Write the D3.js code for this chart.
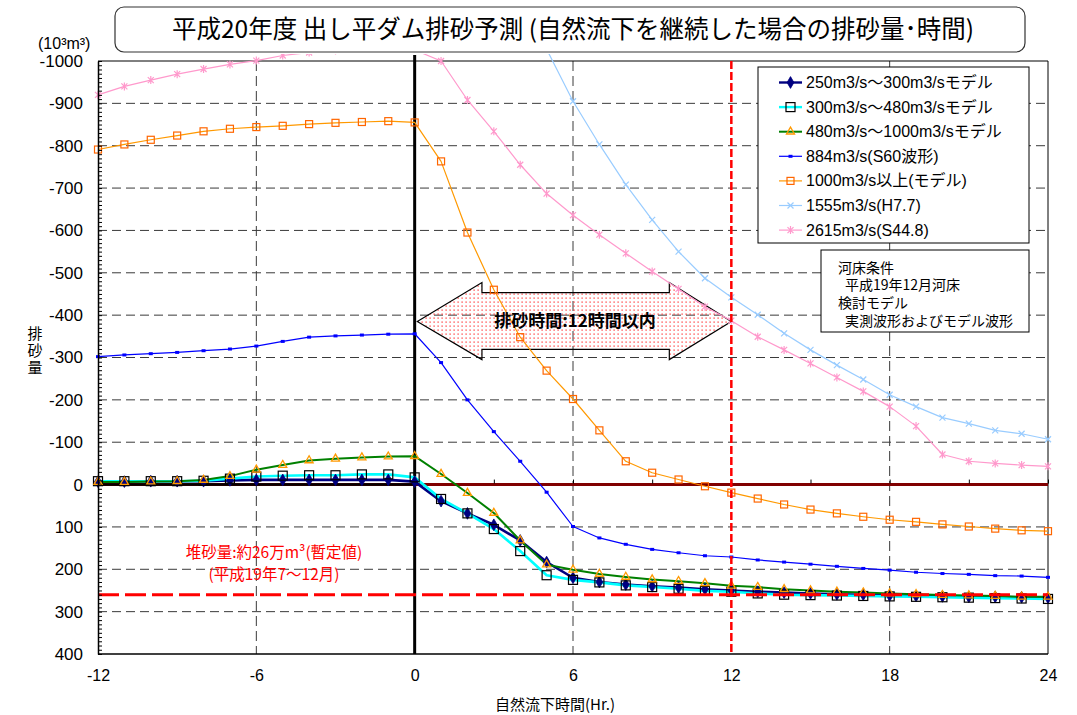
<!DOCTYPE html>
<html><head><meta charset="utf-8">
<script src="https://cdn.jsdelivr.net/npm/d3@7"></script>
<style>body{margin:0;background:#fff}svg{display:block}</style>
</head><body>
<svg id="chart" width="1077" height="715"></svg>
<script>
// ---------- data (10^3 m3, negative = discharged) ----------
const hours = [-12,-11,-10,-9,-8,-7,-6,-5,-4,-3,-2,-1,0,1,2,3,4,5,6,7,8,9,10,11,12,13,14,15,16,17,18,19,20,21,22,23,24];
const s250_300 = [-7,-7,-8,-8,-8,-10,-11,-11,-11,-11,-11,-11,-7,
  39,68,95,132,183,220,230,236,240,243,247,250,253,255,257,259,260,262,263,264,265,265,266,267];
const s300_480 = [-8,-8,-8,-8,-9,-14,-19,-21,-22,-22,-24,-24,-17,
  34,68,105,157,214,225,231,238,242,246,251,253,257,260,261,262,263,264,265,266,267,268,269,270];
const s480_1000 = [-6,-6,-7,-8,-11,-20,-35,-46,-57,-61,-64,-66,-67,
  -25,20,67,132,189,201,211,218,224,228,233,239,242,247,250,253,255,257,259,261,262,263,265,265];
const s884 = [-302,-306,-309,-312,-316,-320,-327,-338,-348,-351,-353,-355,-356,
  -288,-200,-125,-55,18,99,126,141,153,161,168,171,178,183,188,193,198,202,207,210,212,215,216,219];
const s1000 = [-791,-803,-814,-824,-834,-840,-844,-847,-851,-854,-856,-858,-855,
  -763,-595,-460,-348,-269,-202,-128,-55,-28,-12,4,19,33,47,59,68,76,83,88,94,99,104,108,110];
const s1555 = [null,null,null,null,null,null,null,null,null,null,null,null,null,null,null,null,null,
  -1028,-905,-803,-708,-625,-550,-487,-442,-401,-357,-318,-282,-248,-212,-184,-158,-144,-128,-120,-107];
const s2615 = [-920,-940,-955,-969,-981,-992,-1001,-1013,-1020,-1025,-1028,-1030,-1026,
  -1000,-908,-834,-755,-687,-636,-590,-546,-503,-462,-420,-387,-349,-318,-286,-253,-220,-184,-138,-71,-55,-50,-46,-43];
const seriesNames = ["250m3/s～300m3/sモデル","300m3/s～480m3/sモデル","480m3/s～1000m3/sモデル",
  "884m3/s(S60波形)","1000m3/s以上(モデル)","1555m3/s(H7.7)","2615m3/s(S44.8)"];
const yTicks = [-1000,-900,-800,-700,-600,-500,-400,-300,-200,-100,0,100,200,300,400];
const xTicks = [-12,-6,0,6,12,18,24];
const depositValue = 260;     // 堆砂量 約26万m3
const flushLimitHour = 12;    // 排砂時間 12時間以内

// ---------- setup ----------
const svg = d3.select("#chart");
const x = d3.scaleLinear().domain([-12,24]).range([98,1048]);
const y = d3.scaleLinear().domain([-1000,400]).range([61,654]);
const JP = "'Liberation Sans','Noto Sans CJK JP',sans-serif";
const JPF = "'Noto Sans CJK JP',sans-serif";

const styles = [
  {data:s250_300, color:"#000080", width:2.6, marker:"diamond"},
  {data:s300_480, color:"#00FFFF", width:2.6, marker:"square"},
  {data:s480_1000, color:"#008000", width:2.0, marker:"triangle"},
  {data:s884, color:"#0000FF", width:1.2, marker:"dot"},
  {data:s1000, color:"#FF9900", width:1.2, marker:"osquare"},
  {data:s1555, color:"#99CCFF", width:1.2, marker:"x"},
  {data:s2615, color:"#FF99CC", width:1.2, marker:"star"}
];

function drawMarker(g, type){
  if(type==="diamond") g.append("path").attr("d", d3.symbol(d3.symbolDiamond, 40)()).attr("fill","#000080").attr("stroke","#000080").attr("stroke-width",0.8);
  else if(type==="square") g.append("rect").attr("x",-4.5).attr("y",-4.5).attr("width",9).attr("height",9).attr("fill","none").attr("stroke","#000").attr("stroke-width",1.2);
  else if(type==="triangle") g.append("path").attr("d", d3.symbol(d3.symbolTriangle, 28)()).attr("fill","none").attr("stroke","#FF9900").attr("stroke-width",1.3);
  else if(type==="dot") g.append("rect").attr("x",-2).attr("y",-1.5).attr("width",4).attr("height",3).attr("fill","#0000FF");
  else if(type==="osquare") g.append("rect").attr("x",-3.5).attr("y",-3.5).attr("width",7).attr("height",7).attr("fill","none").attr("stroke","#FF6600").attr("stroke-width",1.2);
  else if(type==="x") g.append("path").attr("d","M-3,-3L3,3M-3,3L3,-3").attr("stroke","#99CCFF").attr("stroke-width",1.2);
  else if(type==="star") g.append("path").attr("d","M-3,-3L3,3M-3,3L3,-3M0,-4L0,4").attr("stroke","#FF99CC").attr("stroke-width",1.2);
}

svg.append("defs").call(defs=>{
  defs.append("clipPath").attr("id","clip").append("rect").attr("x",0).attr("y",54).attr("width",1077).attr("height",610);
  const p = defs.append("pattern").attr("id","dots").attr("patternUnits","userSpaceOnUse").attr("width",4).attr("height",4);
  p.append("rect").attr("x",1.5).attr("y",1.5).attr("width",1.2).attr("height",1.2).attr("fill","#FF2020");
});

// ---------- gridlines ----------
const grid = svg.append("g");
grid.selectAll("line.h").data(yTicks.filter(v=>v!==0 && v!==-1000 && v!==400)).join("line")
  .attr("x1",x(-12)).attr("x2",x(24)).attr("y1",d=>y(d)).attr("y2",d=>y(d))
  .attr("stroke","#3a3a3a").attr("stroke-width",1).attr("stroke-dasharray","9 5");
grid.selectAll("line.v").data([-6,6,18]).join("line")
  .attr("x1",d=>x(d)).attr("x2",d=>x(d)).attr("y1",y(-1000)).attr("y2",y(400))
  .attr("stroke","#3a3a3a").attr("stroke-width",1).attr("stroke-dasharray","10 5");

// ---------- arrow ----------
const ax = [0.1, 2.55, 9.65, 12], ay = [-477,-453,-319,-295], ac = -385;
const arrowPts = [[ax[0],ac],[ax[1],ay[0]],[ax[1],ay[1]],[ax[2],ay[1]],[ax[2],ay[0]],[ax[3],ac],
  [ax[2],ay[3]],[ax[2],ay[2]],[ax[1],ay[2]],[ax[1],ay[3]]].map(p=>[x(p[0]),y(p[1])]);
svg.append("polygon").attr("points",arrowPts.map(p=>p.join(",")).join(" "))
  .attr("fill","url(#dots)").attr("stroke","#000").attr("stroke-width",1.2);

// ---------- frame ----------
svg.append("line").attr("x1",x(-12)).attr("x2",x(24)).attr("y1",y(-1000)).attr("y2",y(-1000)).attr("stroke","#000").attr("stroke-width",1);
svg.append("line").attr("x1",x(24)).attr("x2",x(24)).attr("y1",y(-1000)).attr("y2",y(400)).attr("stroke","#000").attr("stroke-width",1);
svg.append("line").attr("x1",x(-12)).attr("x2",x(24)).attr("y1",y(400)).attr("y2",y(400)).attr("stroke","#000").attr("stroke-width",1.5);

// zero line
svg.append("line").attr("x1",x(-12)).attr("x2",x(24)).attr("y1",y(0)).attr("y2",y(0)).attr("stroke","#800000").attr("stroke-width",3);
svg.append("line").attr("x1",x(-12)).attr("x2",x(0)).attr("y1",y(0)).attr("y2",y(0)).attr("stroke","#000").attr("stroke-width",2.5);
svg.append("g").attr("transform",`translate(0,${y(0)-1})`)
  .call(d3.axisBottom(x).tickValues(d3.range(-12,25,3)).tickSize(-4).tickFormat(""))
  .call(g=>{g.select(".domain").remove(); g.selectAll("line").attr("stroke","#000");});
// black line at 0 h
svg.append("line").attr("x1",x(0)).attr("x2",x(0)).attr("y1",55).attr("y2",y(400)).attr("stroke","#000").attr("stroke-width",3);

// ---------- series ----------
const plot = svg.append("g").attr("clip-path","url(#clip)");
const line = d3.line().defined(d=>d[1]!==null).x(d=>x(d[0])).y(d=>y(d[1]));
styles.forEach(s=>{
  plot.append("path").datum(hours.map((h,i)=>[h,s.data[i]])).attr("d",line)
    .attr("fill","none").attr("stroke",s.color).attr("stroke-width",s.width).attr("stroke-linejoin","round");
});
// red reference lines
svg.append("line").attr("x1",x(-12)).attr("x2",x(24)).attr("y1",y(depositValue)).attr("y2",y(depositValue))
  .attr("stroke","#FF0000").attr("stroke-width",3).attr("stroke-dasharray","21 6");
svg.append("line").attr("x1",x(flushLimitHour)).attr("x2",x(flushLimitHour)).attr("y1",y(-1000)).attr("y2",y(400))
  .attr("stroke","#FF0000").attr("stroke-width",2.5).attr("stroke-dasharray","8 3");
styles.forEach(s=>{
  hours.forEach((h,i)=>{
    const v = s.data[i]; if(v===null) return;
    const g = plot.append("g").attr("transform",`translate(${x(h)},${y(v)})`);
    drawMarker(g, s.marker);
  });
});

// ---------- axes ----------
svg.append("g").attr("transform",`translate(${x(-12)},0)`)
  .call(d3.axisLeft(y).tickValues(yTicks).tickFormat(d=>String(d)).tickSize(0).tickPadding(15))
  .call(g=>{g.select(".domain").attr("stroke","#000").attr("stroke-width",1.5);
    g.selectAll("text").attr("font-family",JP).attr("font-size",17).attr("fill","#000");});
svg.append("g").attr("transform",`translate(${x(-12)},0)`)
  .call(d3.axisLeft(y).tickValues(d3.range(-1000,401,10)).tickSize(-4).tickFormat(""))
  .call(g=>{g.select(".domain").remove(); g.selectAll("line").attr("stroke","#000");});
svg.append("g").attr("transform",`translate(0,${y(400)})`)
  .call(d3.axisBottom(x).tickValues(xTicks).tickSize(0).tickPadding(16).tickFormat(d=>String(d)))
  .call(g=>{g.select(".domain").remove();
    g.selectAll("text").attr("font-family",JP).attr("font-size",16).attr("fill","#000");});

// ---------- title ----------
svg.append("rect").attr("x",115).attr("y",7).attr("width",910).attr("height",45).attr("rx",9)
  .attr("fill","#fff").attr("stroke","#333").attr("stroke-width",1.2);
svg.append("text").attr("x",573).attr("y",38).attr("text-anchor","middle")
  .attr("font-family",JPF).attr("font-size",24.5).attr("fill","#000")
  .text("平成20年度 出し平ダム排砂予測 (自然流下を継続した場合の排砂量･時間)");

// unit label
svg.append("text").attr("x",38).attr("y",49).attr("font-family",JP).attr("font-size",16).attr("fill","#000").text("(10³m³)");

// y label (vertical)
svg.append("text").attr("x",35).attr("y",326).attr("writing-mode","vertical-rl")
  .attr("font-family",JPF).attr("font-size",15).attr("letter-spacing",2).attr("fill","#000").text("排砂量");
// x label
svg.append("text").attr("x",555).attr("y",710).attr("text-anchor","middle")
  .attr("font-family",JPF).attr("font-size",15).attr("fill","#000").text("自然流下時間(Hr.)");

// ---------- legend ----------
const lg = svg.append("g");
lg.append("rect").attr("x",758).attr("y",67).attr("width",271).attr("height",176).attr("fill","#fff").attr("stroke","#000").attr("stroke-width",1);
styles.forEach((s,i)=>{
  const cy = 82.5 + i*24.6;
  lg.append("line").attr("x1",779).attr("x2",802).attr("y1",cy).attr("y2",cy).attr("stroke",s.color).attr("stroke-width",Math.min(s.width,2.4));
  drawMarker(lg.append("g").attr("transform",`translate(790.5,${cy})`), s.marker);
  lg.append("text").attr("x",806).attr("y",cy+5.5).attr("font-family",JP).attr("font-size",16).attr("fill","#000").text(seriesNames[i]);
});

// note box
svg.append("rect").attr("x",821).attr("y",250).attr("width",208).attr("height",82).attr("fill","#fff").attr("stroke","#000").attr("stroke-width",1);
const notes = [["河床条件",838],["平成19年12月河床",845],["検討モデル",838],["実測波形およびモデル波形",845]];
svg.append("g").selectAll("text").data(notes).join("text")
  .attr("x",d=>d[1]).attr("y",(d,i)=>272.5+i*17.8).attr("font-family",JPF).attr("font-size",14).attr("fill","#000").text(d=>d[0]);

// arrow text
svg.append("text").attr("x",x(6)+2).attr("y",y(ac)+6).attr("text-anchor","middle")
  .attr("font-family",JPF).attr("font-weight","bold").attr("font-size",17).attr("fill","#000")
  .text("排砂時間:12時間以内");

// deposit text
svg.append("text").attr("x",274).attr("y",558).attr("text-anchor","middle")
  .attr("font-family",JPF).attr("font-size",15.5).attr("fill","#FF0000").text("堆砂量:約26万m³(暫定値)");
svg.append("text").attr("x",274).attr("y",580).attr("text-anchor","middle")
  .attr("font-family",JPF).attr("font-size",15.5).attr("fill","#FF0000").text("(平成19年7～12月)");
</script>
</body></html>
